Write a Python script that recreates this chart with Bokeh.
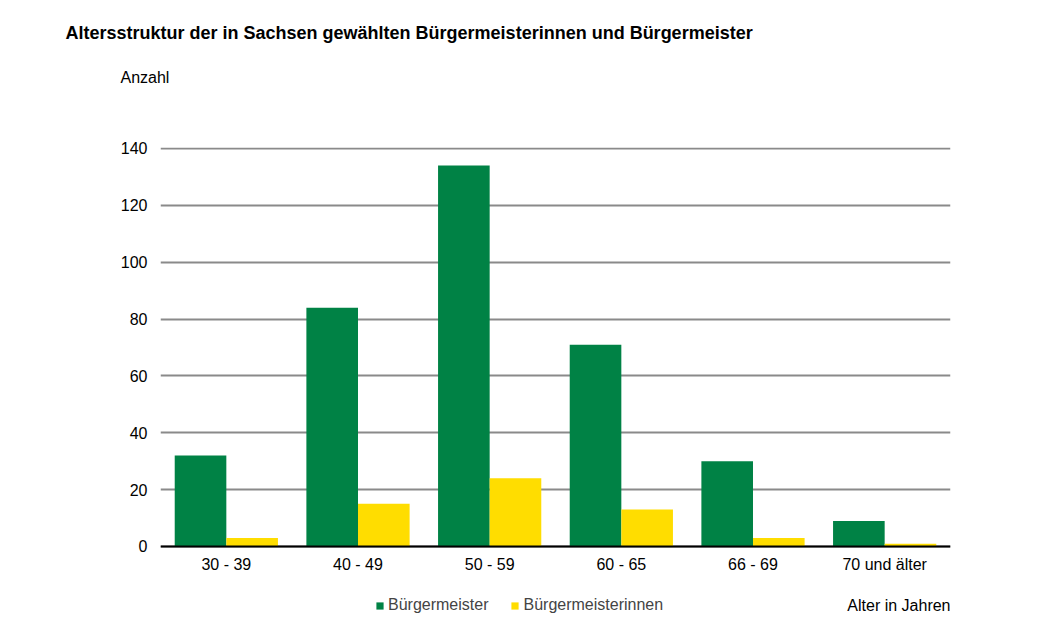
from bokeh.plotting import figure
from bokeh.models import ColumnDataSource, Label, Legend, LegendItem, FactorRange, Title
from bokeh.transform import dodge
from bokeh.embed import file_html
from bokeh.resources import INLINE

categories = ["30 - 39", "40 - 49", "50 - 59", "60 - 65", "66 - 69", "70 und älter"]
buergermeister = [32, 84, 134, 71, 30, 9]
buergermeisterinnen = [3, 15, 24, 13, 3, 1]
y_ticks = [0, 20, 40, 60, 80, 100, 120, 140]

GREEN = "#008245"
YELLOW = "#FFDD00"
FONT = "Liberation Sans"

src = ColumnDataSource(dict(cat=categories, m=buergermeister, w=buergermeisterinnen))

W, H = 1048, 642
p = figure(width=W, height=H, x_range=FactorRange(*categories), y_range=(-29.55, 140.35),
           output_backend="svg", toolbar_location=None, title=None,
           min_border_left=160, min_border_right=98, min_border_top=147, min_border_bottom=12)
p.outline_line_color = None
p.background_fill_color = "white"
p.border_fill_color = "white"
p.x_range.range_padding = 0

bw = 0.392
r1 = p.vbar(x=dodge("cat", -bw / 2, range=p.x_range), top="m", width=bw, source=src,
            fill_color=GREEN, line_color=None)
r2 = p.vbar(x=dodge("cat", bw / 2, range=p.x_range), top="w", width=bw, source=src,
            fill_color=YELLOW, line_color=None)

p.xgrid.grid_line_color = None
p.ygrid.grid_line_color = "#8a8a8a"
p.ygrid.grid_line_width = 2
p.yaxis.ticker = y_ticks
p.yaxis.axis_line_color = None
p.yaxis.major_tick_line_color = None
p.yaxis.minor_tick_line_color = None
p.yaxis.major_tick_out = 0
p.yaxis.major_tick_in = 0
p.yaxis.major_label_standoff = 13
p.yaxis.major_label_text_font = FONT
p.yaxis.major_label_text_font_size = "16px"
p.yaxis.major_label_text_color = "black"

p.xaxis.fixed_location = 0
p.xaxis.axis_line_color = "black"
p.xaxis.axis_line_width = 2
p.xaxis.major_tick_line_color = None
p.xaxis.minor_tick_line_color = None
p.xaxis.major_tick_out = 0
p.xaxis.major_tick_in = 0
p.xaxis.major_label_standoff = 10
p.xaxis.major_label_text_font = FONT
p.xaxis.major_label_text_font_size = "16px"
p.xaxis.major_label_text_color = "black"

p.add_layout(Title(text="Anzahl", align="left", offset=-40, standoff=0,
                   padding=dict(left=0, right=0, top=0, bottom=62),
                   text_font=FONT, text_font_size="16px", text_font_style="normal",
                   text_color="black"), "above")
p.add_layout(Title(text="Altersstruktur der in Sachsen gewählten Bürgermeisterinnen und Bürgermeister",
                   align="left", offset=-95, standoff=0,
                   padding=dict(left=0, right=0, top=0, bottom=24),
                   text_font=FONT, text_font_size="18px", text_font_style="bold",
                   text_color="black"), "above")

p.add_layout(Label(x=6.0, y=-20.75, text="Alter in Jahren",
                   text_font=FONT, text_font_size="16px", text_baseline="middle",
                   text_align="right", text_color="black"))

legend = Legend(items=[LegendItem(label="Bürgermeister", renderers=[r1]),
                       LegendItem(label="Bürgermeisterinnen", renderers=[r2])],
                orientation="horizontal", location=(215, 16),
                glyph_width=9, glyph_height=9, label_standoff=4, spacing=22,
                padding=0, margin=0, border_line_color=None, background_fill_alpha=0,
                label_text_font=FONT, label_text_font_size="16px", label_height=18)
p.add_layout(legend, "center")

open("out.html", "w").write(file_html(p, INLINE))
